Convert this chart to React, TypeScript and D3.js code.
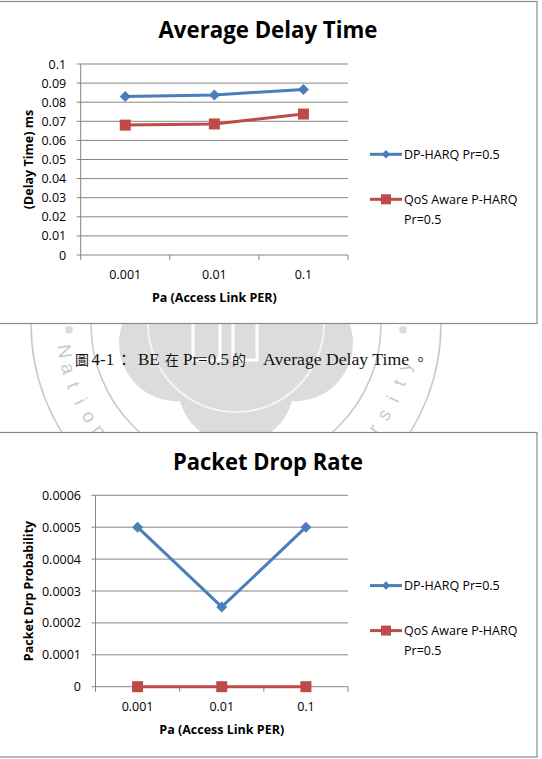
import React, { useEffect, useRef } from 'react';
import * as d3 from 'd3';

const W = 542;
const H = 759;

// x categories: access link packet error rate
const categories = ['0.001', '0.01', '0.1'];

// average delay time (ms)
const delayDpHarq = [0.083, 0.0838, 0.0867];
const delayQosAware = [0.068, 0.0686, 0.0738];

// packet drop probability
const dropDpHarq = [0.0005, 0.00025, 0.0005];
const dropQosAware = [0, 0, 0];

const delayTickLabels = ['0', '0.01', '0.02', '0.03', '0.04', '0.05', '0.06', '0.07', '0.08', '0.09', '0.1'];
const dropTickLabels = ['0', '0.0001', '0.0002', '0.0003', '0.0004', '0.0005', '0.0006'];

const seriesNames = ['DP-HARQ Pr=0.5', 'QoS Aware P-HARQ Pr=0.5'];
const legendLines = [['DP-HARQ Pr=0.5'], ['QoS Aware P-HARQ', 'Pr=0.5']];
const seriesColors = ['#4A7EBB', '#BE4B48'];
const seriesMarkers = ['diamond', 'square'];

const FONT = "'Open Sans', 'Liberation Sans', sans-serif";
const GRID = '#868686';

type ChartCfg = {
  boxTop: number;
  boxBottom: number;
  title: string;
  titleWidth: number;
  titleY: number;
  left: number;
  right: number;
  top: number;
  bottom: number;
  tickLabels: string[];
  yTitle: string;
  series: number[][];
};

function marker(g: any, kind: string, cx: number, cy: number, size: number, color: string) {
  if (kind === 'diamond') {
    const r = size / 2;
    g.append('path')
      .attr('d', `M${cx},${cy - r} L${cx + r},${cy} L${cx},${cy + r} L${cx - r},${cy} Z`)
      .attr('fill', color);
  } else {
    g.append('rect')
      .attr('x', cx - size / 2)
      .attr('y', cy - size / 2)
      .attr('width', size)
      .attr('height', size)
      .attr('fill', color);
  }
}

function drawChart(svg: any, cfg: ChartCfg) {
  const g = svg.append('g');

  g.append('rect')
    .attr('x', -2)
    .attr('y', cfg.boxTop)
    .attr('width', 539)
    .attr('height', cfg.boxBottom - cfg.boxTop)
    .attr('fill', '#fff')
    .attr('stroke', '#8a8a8a')
    .attr('stroke-width', 1.2);

  g.append('text')
    .attr('x', 268)
    .attr('y', cfg.titleY)
    .attr('text-anchor', 'middle')
    .attr('font-family', FONT)
    .attr('font-weight', 'bold')
    .attr('font-size', 23)
    .attr('textLength', cfg.titleWidth)
    .attr('lengthAdjust', 'spacingAndGlyphs')
    .text(cfg.title);

  const tickValues = cfg.tickLabels.map(t => +t);
  const y = d3.scaleLinear()
    .domain([0, d3.max(tickValues) as number])
    .range([cfg.bottom, cfg.top]);

  const x = d3.scaleBand()
    .domain(categories)
    .range([cfg.left, cfg.right]);
  const bw = x.bandwidth();

  // gridlines and y ticks
  tickValues.forEach((v, i) => {
    g.append('line')
      .attr('x1', cfg.left - 4).attr('x2', cfg.right)
      .attr('y1', y(v)).attr('y2', y(v))
      .attr('stroke', GRID).attr('stroke-width', 1);
    g.append('text')
      .attr('x', cfg.left - 14.5)
      .attr('y', y(v))
      .attr('dy', '0.36em')
      .attr('text-anchor', 'end')
      .attr('font-family', FONT)
      .attr('font-size', 12.5)
      .text(cfg.tickLabels[i]);
  });

  g.append('line')
    .attr('x1', cfg.left).attr('x2', cfg.left)
    .attr('y1', cfg.top).attr('y2', cfg.bottom)
    .attr('stroke', GRID).attr('stroke-width', 1);

  // x ticks at category boundaries
  const bounds = categories.map(c => x(c) as number).concat([cfg.right]);
  bounds.forEach(b => {
    g.append('line')
      .attr('x1', b).attr('x2', b)
      .attr('y1', cfg.bottom).attr('y2', cfg.bottom + 5)
      .attr('stroke', GRID).attr('stroke-width', 1);
  });

  categories.forEach(c => {
    g.append('text')
      .attr('x', (x(c) as number) + bw / 2)
      .attr('y', cfg.bottom + 24)
      .attr('text-anchor', 'middle')
      .attr('font-family', FONT)
      .attr('font-size', 12.5)
      .text(c);
  });

  g.append('text')
    .attr('x', (cfg.left + cfg.right) / 2)
    .attr('y', cfg.bottom + 47)
    .attr('text-anchor', 'middle')
    .attr('font-family', FONT)
    .attr('font-weight', 'bold')
    .attr('font-size', 12.5)
    .text('Pa (Access Link PER)');

  g.append('text')
    .attr('transform', `translate(28,${(cfg.top + cfg.bottom) / 2}) rotate(-90)`)
    .attr('dy', '0.36em')
    .attr('text-anchor', 'middle')
    .attr('font-family', FONT)
    .attr('font-weight', 'bold')
    .attr('font-size', 12.5)
    .text(cfg.yTitle);

  // series lines + markers
  cfg.series.forEach((vals, si) => {
    const line = d3.line<number>()
      .x((_, i) => (x(categories[i]) as number) + bw / 2)
      .y(d => y(d));
    g.append('path')
      .attr('d', line(vals))
      .attr('fill', 'none')
      .attr('stroke', seriesColors[si])
      .attr('stroke-width', 3)
      .attr('stroke-linejoin', 'round');
    vals.forEach((v, i) => {
      const size = seriesMarkers[si] === 'diamond' ? 11 : 11;
      marker(g, seriesMarkers[si], (x(categories[i]) as number) + bw / 2, y(v), size, seriesColors[si]);
    });
  });

  // legend
  const rows = [cfg.top + 90.3, cfg.top + 135.3];
  seriesNames.forEach((name, si) => {
    const ly = rows[si];
    g.append('line')
      .attr('x1', 370).attr('x2', 402)
      .attr('y1', ly).attr('y2', ly)
      .attr('stroke', seriesColors[si]).attr('stroke-width', 3);
    marker(g, seriesMarkers[si], 386, ly, seriesMarkers[si] === 'diamond' ? 8.5 : 10, seriesColors[si]);
    const t = g.append('text')
      .attr('font-family', FONT)
      .attr('font-size', 12.5)
      .attr('aria-label', name);
    legendLines[si].forEach((ln, li) => {
      t.append('tspan')
        .attr('x', 404)
        .attr('y', ly + li * 19.7)
        .attr('dy', '0.36em')
        .text(ln);
    });
  });
}

function drawWatermark(svg: any) {
  const cx = 236;
  const cy = 324;
  const wm = svg.append('g');
  const fillGrey = '#dcdcdc';
  const lineGrey = '#cacaca';

  // plum blossom emblem
  const petals = [90, 162, 234, 306, 18];
  petals.forEach(a => {
    const r = (a * Math.PI) / 180;
    wm.append('circle')
      .attr('cx', cx + 62 * Math.cos(r))
      .attr('cy', cy + 62 * Math.sin(r))
      .attr('r', 58)
      .attr('fill', fillGrey);
  });
  wm.append('circle').attr('cx', cx).attr('cy', cy).attr('r', 64).attr('fill', fillGrey);

  // inner outline of the blossom
  wm.append('circle')
    .attr('cx', cx).attr('cy', cy).attr('r', 88)
    .attr('fill', 'none')
    .attr('stroke', '#fff')
    .attr('stroke-width', 2)
    .attr('opacity', 0.7);

  // open book in the middle
  [[193, 220], [233, 257]].forEach(([x0, x1]) => {
    wm.append('rect')
      .attr('x', x0).attr('y', 296)
      .attr('width', x1 - x0).attr('height', 64)
      .attr('fill', 'none')
      .attr('stroke', '#fff')
      .attr('stroke-width', 3);
  });

  // rings
  [145, 205].forEach(r => {
    wm.append('circle')
      .attr('cx', cx).attr('cy', cy).attr('r', r)
      .attr('fill', 'none')
      .attr('stroke', lineGrey)
      .attr('stroke-width', 1.6);
  });

  // separators between the two ring texts
  [2, 178].forEach(a => {
    const r = (a * Math.PI) / 180;
    wm.append('rect')
      .attr('x', cx + 167 * Math.cos(r) - 3.5)
      .attr('y', cy + 167 * Math.sin(r) - 3.5)
      .attr('width', 7).attr('height', 7)
      .attr('fill', fillGrey);
  });

  // English name around the lower half of the ring
  const name = 'National Chengchi University';
  const a0 = 171;
  const a1 = 14;
  const step = (a0 - a1) / (name.length - 1);
  name.split('').forEach((ch, i) => {
    const a = a0 - i * step;
    const r = (a * Math.PI) / 180;
    const px = cx + 180 * Math.cos(r);
    const py = cy + 180 * Math.sin(r);
    wm.append('text')
      .attr('transform', `translate(${px},${py}) rotate(${a - 90})`)
      .attr('text-anchor', 'middle')
      .attr('font-family', "'Liberation Sans', sans-serif")
      .attr('font-size', 19)
      .attr('fill', lineGrey)
      .text(ch);
  });
}

function drawCaption(svg: any) {
  const serif = "'Liberation Serif', 'Times New Roman', serif";
  const cjk = "'Noto Sans CJK TC', 'Noto Sans CJK SC', sans-serif";
  // [text, x, font, size, width]
  const parts: [string, number, string, number, number][] = [
    ['圖', 75, cjk, 14, 0],
    ['4-1', 91.5, serif, 17, 0],
    ['：', 116.5, cjk, 15, 0],
    ['BE', 138, serif, 17, 0],
    ['在', 165, cjk, 14, 0],
    ['Pr=0.5', 183, serif, 17, 0],
    ['的', 232, cjk, 14, 0],
    ['Average Delay Time', 263, serif, 17, 146],
    ['。', 413, cjk, 15, 0],
  ];
  parts.forEach(([s, px, f, fs, w]) => {
    const t = svg.append('text')
      .attr('x', px)
      .attr('y', 364.5)
      .attr('fill', '#111')
      .attr('font-family', f)
      .attr('font-size', fs)
      .text(s);
    if (w) t.attr('textLength', w).attr('lengthAdjust', 'spacingAndGlyphs');
  });
}

export default function App() {
  const svgRef = useRef<SVGSVGElement>(null);

  useEffect(() => {
    if (!svgRef.current) return;
    const svg = d3.select(svgRef.current);
    svg.selectAll('*').remove();

    svg.append('rect').attr('width', W).attr('height', H).attr('fill', '#fff');

    drawWatermark(svg);

    drawChart(svg, {
      boxTop: 1.5,
      boxBottom: 323.5,
      title: 'Average Delay Time',
      titleWidth: 219,
      titleY: 37.5,
      left: 80.7,
      right: 348,
      top: 64,
      bottom: 255,
      tickLabels: delayTickLabels,
      yTitle: '(Delay Time) ms',
      series: [delayDpHarq, delayQosAware],
    });

    drawCaption(svg);

    drawChart(svg, {
      boxTop: 432.5,
      boxBottom: 757,
      title: 'Packet Drop Rate',
      titleWidth: 190,
      titleY: 469.5,
      left: 95.5,
      right: 348,
      top: 495.3,
      bottom: 686.7,
      tickLabels: dropTickLabels,
      yTitle: 'Packet Drp Probability',
      series: [dropDpHarq, dropQosAware],
    });
  }, []);

  return (
    <div style={{ position: 'absolute', left: 0, top: 0, width: W, height: H }}>
      <svg ref={svgRef} width={W} height={H} style={{ display: 'block' }}></svg>
    </div>
  );
}
